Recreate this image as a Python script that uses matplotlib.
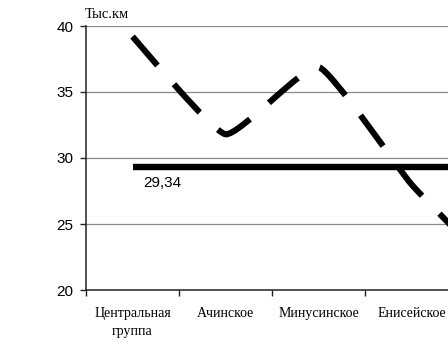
import matplotlib
matplotlib.use('Agg')
import matplotlib.pyplot as plt
from matplotlib.path import Path
from matplotlib.patches import PathPatch
import numpy as np

plt.rcParams['lines.scale_dashes'] = False

categories = ['Центральная\nгруппа', 'Ачинское', 'Минусинское', 'Енисейское', '']
values = [39.2, 31.8, 36.9, 28.0, 20.8]
average = 29.34
avg_label = '29,34'
yticks = [20, 25, 30, 35, 40]
y_unit = 'Тыс.км'

serif = ['Liberation Serif', 'DejaVu Serif']
sans = ['Liberation Sans', 'DejaVu Sans']

fig = plt.figure(figsize=(4.48, 3.52), dpi=100)
fig.patch.set_facecolor('white')
ax = fig.add_axes([86 / 448, 1 - 290 / 352, 465 / 448, 264 / 352])

x = np.arange(len(values))
pts = np.column_stack([x, np.array(values, float)])

# lightly smoothed line (cubic Bezier through the points)
verts = [pts[0]]
codes = [Path.MOVETO]
n = len(pts)
k = 14.0
for i in range(n - 1):
    p0 = pts[i - 1] if i > 0 else pts[i]
    p1 = pts[i]
    p2 = pts[i + 1]
    p3 = pts[i + 2] if i + 2 < n else pts[i + 1]
    c1 = p1 + (p2 - p0) / k
    c2 = p2 - (p3 - p1) / k
    verts += [c1, c2, p2]
    codes += [Path.CURVE4] * 3
patch = PathPatch(Path(verts, codes), fill=False, edgecolor='black', lw=4.4,
                  linestyle=(0, (27.5, 18.0)), capstyle='butt', joinstyle='round',
                  zorder=3)
ax.add_patch(patch)

# average line
ax.plot(x, [average] * len(x), color='black', lw=4.6, solid_capstyle='butt', zorder=3)
ax.annotate(avg_label, xy=(0, average), xytext=(8, -12), textcoords='offset points',
            ha='left', va='center', fontsize=11, family=sans)

ax.set_xlim(-0.5, len(values) - 0.5)
ax.set_ylim(20, 40)
ax.set_yticks(yticks)
ax.set_yticklabels([str(v) for v in yticks], family=sans, fontsize=11)
ax.set_xticks(x)
ax.set_xticklabels(categories, family=serif, fontsize=10, linespacing=1.5)
ax.set_xticks(np.arange(len(values) + 1) - 0.5, minor=True)
ax.tick_params(axis='x', which='major', length=0, pad=12)
ax.tick_params(axis='x', which='minor', length=4, width=1, color='#222222')
ax.tick_params(axis='y', which='major', length=4, width=1, pad=5, color='#222222')

ax.grid(axis='y', color='#8a8a8a', lw=0.9)
ax.set_axisbelow(True)
for s in ['top', 'right']:
    ax.spines[s].set_visible(False)
ax.spines['left'].set_color('#222222')
ax.spines['bottom'].set_color('#222222')
ax.spines['left'].set_linewidth(1.1)
ax.spines['bottom'].set_linewidth(1.1)

fig.text(85 / 448, 1 - 14 / 352, y_unit, ha='left', va='center', fontsize=10.5, family=serif)

fig.savefig('out.png', dpi=100, facecolor='white')
